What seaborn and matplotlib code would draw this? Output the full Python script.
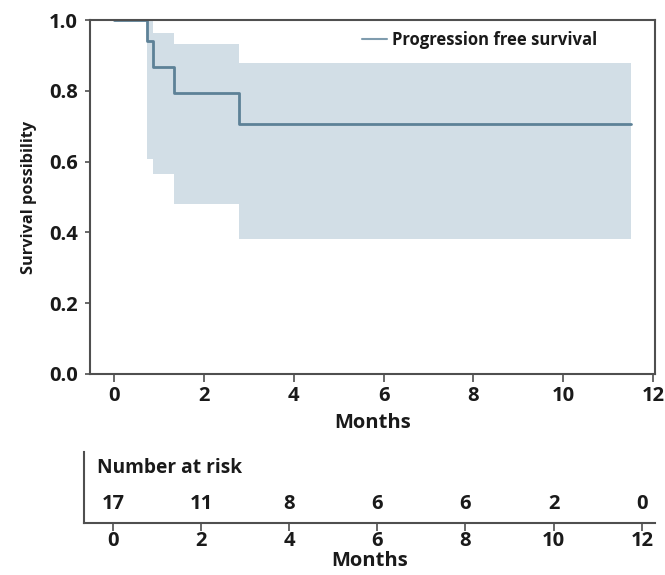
import matplotlib
matplotlib.use("Agg")
import matplotlib.pyplot as plt
import seaborn as sns
import pandas as pd

# Kaplan-Meier estimate for progression free survival
months = [0.0, 0.72, 0.85, 1.32, 2.77, 11.52]
survival = [1.0, 0.941, 0.868, 0.794, 0.706, 0.706]
ci_upper = [1.0, 1.0, 0.963, 0.932, 0.879, 0.879]
ci_lower = [1.0, 0.607, 0.565, 0.480, 0.381, 0.381]

# Number at risk table
risk_months = [0, 2, 4, 6, 8, 10, 12]
at_risk = [17, 11, 8, 6, 6, 2, 0]

sns.set_theme(style="white")
plt.rcParams["font.family"] = ["Open Sans", "DejaVu Sans"]
plt.rcParams["font.weight"] = "bold"

line_color = "#5d8197"
fill_color = "#d2dee6"
spine_color = "#4f4f4f"
text_color = "#1a1a1a"
tick_size = 14.5

df = pd.DataFrame({"Months": months, "Survival": survival})

fig = plt.figure(figsize=(6.65, 5.75), dpi=100)
ax = fig.add_axes([0.135, 0.350, 0.850, 0.615])

ax.fill_between(months, ci_lower, ci_upper, step="post", color=fill_color, lw=0)
sns.lineplot(data=df, x="Months", y="Survival", ax=ax, drawstyle="steps-post",
             color=line_color, lw=2.0, label="Progression free survival")

ax.set_xlim(-0.55, 12.05)
ax.set_ylim(0, 1.0)
ax.set_xticks([0, 2, 4, 6, 8, 10, 12])
ax.set_yticks([0.0, 0.2, 0.4, 0.6, 0.8, 1.0])
ax.set_yticklabels([f"{v:.1f}" for v in [0.0, 0.2, 0.4, 0.6, 0.8, 1.0]])
ax.set_xlabel("Months", fontsize=tick_size, fontweight="bold", labelpad=5,
              color=text_color)
ax.set_ylabel("Survival possibility", fontsize=11.8, fontweight="bold", labelpad=9,
              color=text_color)
ax.tick_params(axis="x", labelsize=tick_size, length=6, width=1.2, color=spine_color,
               labelcolor=text_color, direction="out", bottom=True, pad=2.5)
ax.tick_params(axis="y", labelsize=tick_size, length=3.5, width=1.2, color=spine_color,
               labelcolor=text_color, direction="out", left=True, pad=5)
for lab in ax.get_xticklabels() + ax.get_yticklabels():
    lab.set_fontweight("bold")
for s in ax.spines.values():
    s.set_color(spine_color)
    s.set_linewidth(1.5)

leg = ax.legend(loc="center left", frameon=False, fontsize=12,
                handlelength=1.5, handletextpad=0.35, borderpad=0,
                borderaxespad=0, bbox_to_anchor=(0.481, 0.943))
for t in leg.get_texts():
    t.set_fontweight("bold")
    t.set_color(text_color)
for h in leg.get_lines():
    h.set_linewidth(1.5)
    h.set_color("#7f9cae")

# Number at risk panel
rax = fig.add_axes([0.126, 0.0904, 0.859, 0.1236])
rax.set_xlim(-0.66, 12.3)
rax.set_ylim(0, 1)
rax.set_xticks(risk_months)
rax.set_yticks([])
for m, n in zip(risk_months, at_risk):
    rax.text(m, 0.27, str(n), ha="center", va="center", fontsize=tick_size,
             fontweight="bold", color=text_color)
rax.text(-0.36, 0.775, "Number at risk", ha="left", va="center", fontsize=13.8,
         fontweight="bold", color=text_color)
rax.spines["top"].set_visible(False)
rax.spines["right"].set_visible(False)
for s in ("left", "bottom"):
    rax.spines[s].set_color(spine_color)
    rax.spines[s].set_linewidth(1.5)
rax.tick_params(axis="x", labelsize=tick_size, length=6, width=1.2, color=spine_color,
                labelcolor=text_color, direction="out", bottom=True, pad=0)
for lab in rax.get_xticklabels():
    lab.set_fontweight("bold")
rax.set_xlabel("Months", fontsize=tick_size, fontweight="bold", labelpad=0,
               color=text_color)

fig.savefig("out.png", dpi=100)
